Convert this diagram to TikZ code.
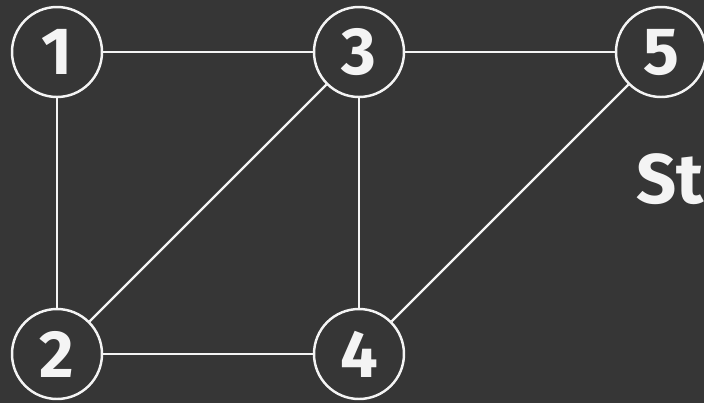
\documentclass[tikz,border=0pt]{standalone}
\usepackage{fontspec}
\setsansfont{Fira Sans}
\usepackage{xcolor}
\definecolor{board}{HTML}{363636}
\definecolor{chalk}{HTML}{F4F4F4}
\tikzset{
  vertex/.style={circle, draw=chalk, line width=1.4pt, minimum size=1.8cm, inner sep=0pt,
    text=chalk, font=\sffamily\bfseries\fontsize{38}{38}\selectfont},
  edge/.style={draw=chalk, line width=1.4pt}
}

\begin{document}
\begin{tikzpicture}[x=0.02cm, y=-0.02cm]
  \fill[board] (0,0) rectangle (704,403);
  \useasboundingbox (0,0) rectangle (704,403);
  \begin{scope}
    \clip (0,0) rectangle (704,403);
    \node[vertex] (v1) at (57,52) {1};
    \node[vertex] (v3) at (359,52) {3};
    \node[vertex] (v5) at (661,52) {5};
    \node[vertex] (v2) at (57,354) {2};
    \node[vertex] (v4) at (359,354) {4};
    \node[anchor=base west, inner sep=0pt, text=chalk, font=\sffamily\bfseries\fontsize{40}{40}\selectfont] (note) at (636,203) {St};
  \end{scope}
  \draw[edge] (v1) -- (v3);
  \draw[edge] (v3) -- (v5);
  \draw[edge] (v1) -- (v2);
  \draw[edge] (v2) -- (v3);
  \draw[edge] (v3) -- (v4);
  \draw[edge] (v2) -- (v4);
  \draw[edge] (v4) -- (v5);
\end{tikzpicture}
\end{document}
